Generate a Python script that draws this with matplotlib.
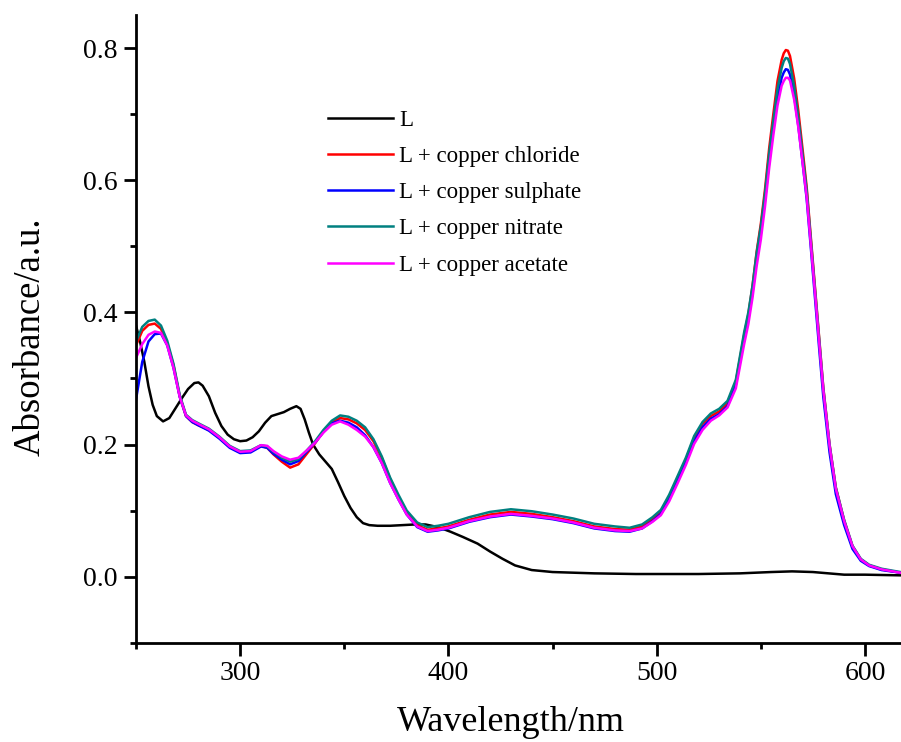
import numpy as np
import matplotlib
matplotlib.use("Agg")
import matplotlib.pyplot as plt
from matplotlib.ticker import MultipleLocator

plt.rcParams['font.family'] = ['Liberation Serif', 'DejaVu Serif']

# free ligand L
wl_L = [250, 252, 254, 256, 258, 260, 263, 266, 269, 272, 275, 278, 280, 282, 285,
        288, 291, 294, 297, 300, 303, 306, 309, 312, 315, 318, 321, 324, 327, 329,
        331, 333, 335, 338, 341, 344, 347, 350, 353, 356, 359, 362, 366, 372, 378,
        384, 389, 395, 401, 407, 414, 420, 426, 432, 440, 450, 470, 490, 520, 540,
        555, 565, 575, 590, 600, 617]
abs_L = [0.380, 0.355, 0.325, 0.288, 0.260, 0.243, 0.235, 0.240, 0.255, 0.270, 0.284,
         0.293, 0.294, 0.289, 0.273, 0.248, 0.228, 0.215, 0.208, 0.205, 0.206, 0.211,
         0.220, 0.233, 0.243, 0.246, 0.249, 0.254, 0.258, 0.254, 0.238, 0.218, 0.200,
         0.185, 0.174, 0.163, 0.143, 0.122, 0.104, 0.090, 0.081, 0.078, 0.077, 0.077,
         0.078, 0.079, 0.079, 0.075, 0.068, 0.060, 0.050, 0.038, 0.027, 0.017, 0.010,
         0.007, 0.005, 0.004, 0.004, 0.005, 0.007, 0.008, 0.007, 0.003, 0.003, 0.002]

# copper complexes share one wavelength grid
wl_cu = [250, 253, 256, 259, 262, 265, 268, 271, 274, 277, 280, 285, 290, 295, 300,
         305, 310, 313, 316, 320, 324, 328, 332, 336, 340, 344, 348, 352, 356, 360,
         364, 368, 372, 376, 380, 385, 390, 395, 400, 410, 420, 430, 440, 450, 460,
         470, 480, 487, 493, 498, 502, 506, 510, 514, 518, 522, 526, 530, 534, 538,
         542, 544, 546, 548, 550, 552, 554, 556, 558, 560, 561, 562, 563, 564, 566,
         568, 570, 572, 574, 576, 578, 580, 583, 586, 590, 594, 598, 602, 608, 617]

abs_nitrate = [0.356, 0.378, 0.387, 0.389, 0.380, 0.357, 0.322, 0.275, 0.245, 0.237,
               0.232, 0.224, 0.212, 0.198, 0.190, 0.191, 0.199, 0.197, 0.189, 0.180,
               0.174, 0.178, 0.191, 0.205, 0.222, 0.236, 0.244, 0.242, 0.236, 0.226,
               0.208, 0.182, 0.150, 0.124, 0.100, 0.082, 0.075, 0.077, 0.080, 0.090,
               0.098, 0.102, 0.099, 0.094, 0.088, 0.080, 0.076, 0.074, 0.079, 0.090,
               0.101, 0.124, 0.152, 0.180, 0.213, 0.234, 0.247, 0.254, 0.266, 0.298,
               0.370, 0.400, 0.440, 0.490, 0.530, 0.580, 0.640, 0.690, 0.738, 0.770,
               0.780, 0.785, 0.784, 0.776, 0.742, 0.695, 0.640, 0.585, 0.510, 0.435,
               0.360, 0.285, 0.200, 0.135, 0.086, 0.047, 0.027, 0.018, 0.012, 0.007]

abs_chloride = [0.350, 0.372, 0.381, 0.383, 0.375, 0.353, 0.320, 0.273, 0.243, 0.234,
                0.229, 0.222, 0.210, 0.196, 0.188, 0.190, 0.198, 0.195, 0.185, 0.174,
                0.165, 0.170, 0.186, 0.202, 0.220, 0.233, 0.240, 0.238, 0.232, 0.222,
                0.205, 0.180, 0.148, 0.121, 0.097, 0.078, 0.071, 0.073, 0.076, 0.086,
                0.094, 0.098, 0.095, 0.090, 0.084, 0.076, 0.072, 0.071, 0.076, 0.087,
                0.098, 0.121, 0.149, 0.177, 0.210, 0.231, 0.243, 0.250, 0.262, 0.295,
                0.366, 0.397, 0.440, 0.492, 0.534, 0.586, 0.648, 0.700, 0.750, 0.782,
                0.792, 0.797, 0.796, 0.788, 0.754, 0.705, 0.648, 0.590, 0.514, 0.438,
                0.362, 0.286, 0.200, 0.135, 0.085, 0.046, 0.026, 0.017, 0.011, 0.006]

abs_sulphate = [0.268, 0.325, 0.356, 0.367, 0.368, 0.350, 0.316, 0.272, 0.243, 0.234,
                0.229, 0.221, 0.209, 0.195, 0.187, 0.188, 0.197, 0.195, 0.186, 0.177,
                0.170, 0.175, 0.189, 0.203, 0.219, 0.232, 0.236, 0.233, 0.226, 0.214,
                0.196, 0.172, 0.142, 0.117, 0.094, 0.075, 0.068, 0.070, 0.073, 0.083,
                0.090, 0.094, 0.091, 0.087, 0.081, 0.073, 0.069, 0.068, 0.073, 0.084,
                0.095, 0.117, 0.145, 0.173, 0.205, 0.226, 0.239, 0.246, 0.258, 0.290,
                0.360, 0.390, 0.430, 0.480, 0.520, 0.570, 0.628, 0.678, 0.724, 0.755,
                0.763, 0.768, 0.767, 0.760, 0.728, 0.682, 0.628, 0.572, 0.498, 0.422,
                0.346, 0.272, 0.188, 0.125, 0.078, 0.042, 0.024, 0.016, 0.010, 0.006]

abs_acetate = [0.331, 0.352, 0.366, 0.371, 0.369, 0.350, 0.316, 0.272, 0.244, 0.236,
               0.231, 0.223, 0.211, 0.197, 0.189, 0.190, 0.199, 0.198, 0.190, 0.182,
               0.177, 0.180, 0.191, 0.203, 0.218, 0.230, 0.235, 0.230, 0.222, 0.212,
               0.196, 0.172, 0.142, 0.117, 0.094, 0.076, 0.069, 0.071, 0.074, 0.084,
               0.091, 0.095, 0.092, 0.088, 0.082, 0.074, 0.070, 0.069, 0.073, 0.083,
               0.093, 0.114, 0.141, 0.169, 0.201, 0.222, 0.236, 0.244, 0.256, 0.285,
               0.352, 0.382, 0.422, 0.470, 0.510, 0.560, 0.618, 0.668, 0.713, 0.743,
               0.750, 0.755, 0.755, 0.751, 0.722, 0.680, 0.628, 0.575, 0.503, 0.430,
               0.355, 0.282, 0.198, 0.133, 0.084, 0.046, 0.026, 0.017, 0.011, 0.006]

series = [
    (wl_L, abs_L, 'L', 'black'),
    (wl_cu, abs_chloride, 'L + copper chloride', '#ff0000'),
    (wl_cu, abs_sulphate, 'L + copper sulphate', '#0000ff'),
    (wl_cu, abs_nitrate, 'L + copper nitrate', '#008080'),
    (wl_cu, abs_acetate, 'L + copper acetate', '#ff00ff'),
]

fig = plt.figure(figsize=(9.01, 7.42), dpi=100)
ax = fig.add_axes([136/901, 99/742, 765/901, 628/742])

for x, y, lab, c in series:
    ax.plot(x, y, color=c, lw=1.8, label=lab)

ax.set_xlim(250, 617.3)
ax.set_ylim(-0.1004, 0.85)
ax.xaxis.set_major_locator(MultipleLocator(100))
ax.xaxis.set_minor_locator(MultipleLocator(50))
ax.yaxis.set_major_locator(MultipleLocator(0.2))
ax.yaxis.set_minor_locator(MultipleLocator(0.1))
ax.yaxis.set_major_formatter(plt.FormatStrFormatter('%.1f'))

ax.spines['top'].set_visible(False)
ax.spines['right'].set_visible(False)
for s in ('left', 'bottom'):
    ax.spines[s].set_linewidth(2)
ax.tick_params(which='major', direction='out', length=9, width=2, labelsize=20, pad=4)
ax.tick_params(which='minor', direction='out', length=4.5, width=2)

ax.set_xlabel('Wavelength/nm', fontsize=26)
ax.set_ylabel('Absorbance/a.u.', fontsize=26.5)
ax.xaxis.set_label_coords(0.49, -0.1)
ax.yaxis.set_label_coords(-0.115, 0.487)

ax.legend(loc='upper left', bbox_to_anchor=(0.251, 0.849), frameon=False,
          fontsize=16.5, handlelength=2.84, handletextpad=0.26, labelspacing=0.66,
          borderpad=0, borderaxespad=0)

fig.savefig('out.png', dpi=100)
